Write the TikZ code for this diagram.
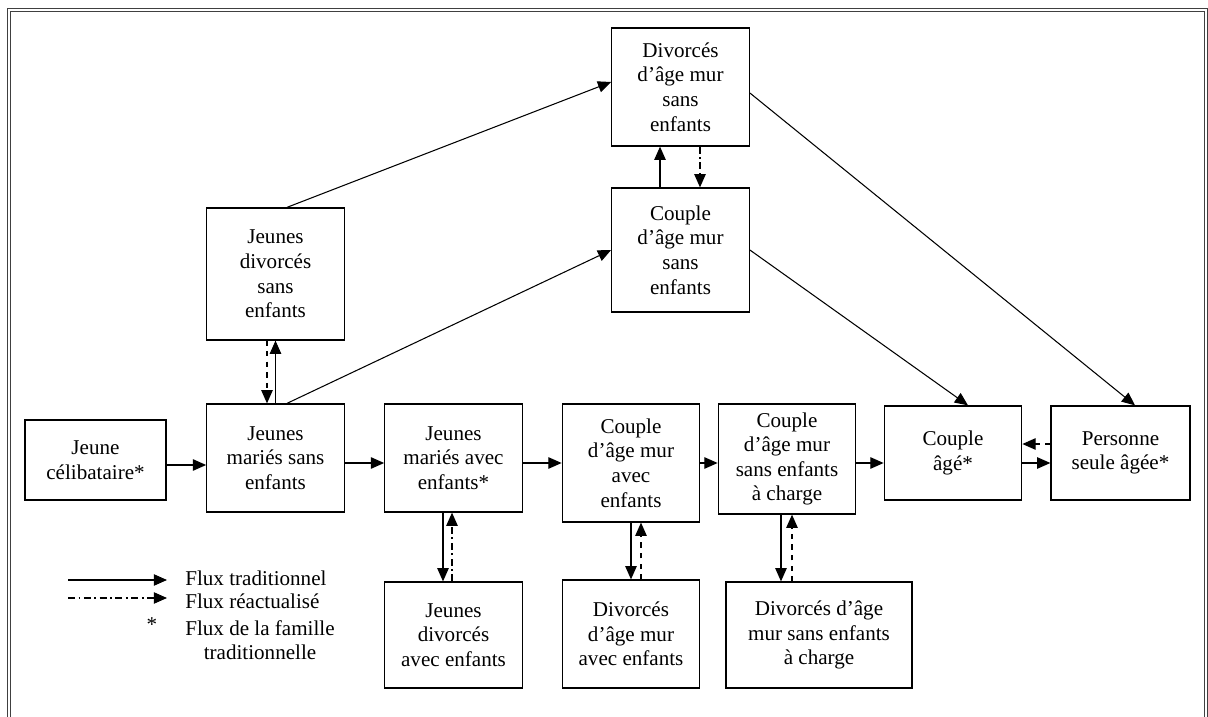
\documentclass[tikz,border=0pt]{standalone}
\usepackage{fontspec}
\setmainfont{Liberation Serif}
\usetikzlibrary{arrows.meta}
\tikzset{
    box/.style={draw, line width=0.75pt, align=center, inner sep=2pt,
        minimum width=2.75cm, font=\fontsize{12pt}{14pt}\selectfont},
    flux/.style={-{Triangle[length=7.5pt,width=6.5pt]}, line width=0.6pt},
    reac/.style={flux, dashed},
    reacdot/.style={flux, dash pattern=on 4pt off 2pt on 1pt off 2pt},
    legend/.style={anchor=west, inner sep=0pt, font=\fontsize{12pt}{14pt}\selectfont}
}

\begin{document}
\begin{tikzpicture}[x=0.02cm, y=-0.02cm]
        \useasboundingbox (0,0) rectangle (1208,717);
        \draw[gray!50!black, double, double distance=1.2pt, line width=0.6pt]
            (9,717) |- (1206,10) -- (1206,717);

        % main row
        \node[box, minimum width=2.82cm, minimum height=1.6cm] (celib) at (95.5,460) {Jeune\\célibataire*};
        \node[box, minimum height=2.16cm] (jmse) at (275.5,458) {Jeunes\\mariés sans\\enfants};
        \node[box, minimum height=2.16cm] (jmae) at (453.5,458) {Jeunes\\mariés avec\\enfants*};
        \node[box, minimum height=2.36cm] (camae) at (631,463) {Couple\\d’âge mur\\avec\\enfants};
        \node[box, minimum height=2.2cm] (camsec) at (787,459) {Couple\\d’âge mur\\sans enfants\\à charge};
        \node[box, minimum height=1.88cm] (cage) at (953,453) {Couple\\âgé*};
        \node[box, minimum width=2.78cm, minimum height=1.88cm] (pseule) at (1120.5,453) {Personne\\seule âgée*};

        % upper boxes
        \node[box, minimum height=2.64cm] (jdse) at (275.5,274) {Jeunes\\divorcés\\sans\\enfants};
        \node[box, minimum height=2.36cm] (damse) at (680.5,87) {Divorcés\\d’âge mur\\sans\\enfants};
        \node[box, minimum height=2.48cm] (camse) at (680.5,250) {Couple\\d’âge mur\\sans\\enfants};

        % lower boxes
        \node[box, minimum height=2.12cm] (jdae) at (453.5,635) {Jeunes\\divorcés\\avec enfants};
        \node[box, minimum height=2.16cm] (damae) at (631,634) {Divorcés\\d’âge mur\\avec enfants};
        \node[box, minimum width=3.72cm, minimum height=2.12cm] (damsec) at (819,635) {Divorcés d’âge\\mur sans enfants\\à charge};

        % horizontal flows
        \draw[flux] (celib.east |- 0,465) -- (jmse.west |- 0,465);
        \draw[flux] (jmse.east |- 0,463) -- (jmae.west |- 0,463);
        \draw[flux] (jmae.east |- 0,463) -- (camae.west |- 0,463);
        \draw[flux] (camae.east |- 0,463) -- (camsec.west |- 0,463);
        \draw[flux] (camsec.east |- 0,463) -- (cage.west |- 0,463);
        \draw[flux] (cage.east |- 0,463) -- (pseule.west |- 0,463);
        \draw[reac] (pseule.west |- 0,444) -- (cage.east |- 0,444);

        % vertical flows
        \draw[flux] (jmse.north) -- (jdse.south);
        \draw[reac] ([xshift=-0.17cm]jdse.south) -- ([xshift=-0.17cm]jmse.north);
        \draw[flux] ([xshift=-0.41cm]camse.north) -- ([xshift=-0.41cm]damse.south);
        \draw[reacdot] ([xshift=0.39cm]damse.south) -- ([xshift=0.39cm]camse.north);
        \draw[flux] ([xshift=-0.21cm]jmae.south) -- ([xshift=-0.21cm]jdae.north);
        \draw[reacdot] ([xshift=-0.03cm]jdae.north) -- ([xshift=-0.03cm]jmae.south);
        \draw[flux] (camae.south) -- (damae.north);
        \draw[reac] ([xshift=0.2cm]damae.north) -- ([xshift=0.2cm]camae.south);
        \draw[flux] ([xshift=-0.12cm]camsec.south) -- ([xshift=-0.12cm]camsec.south |- damsec.north);
        \draw[reac] ([xshift=0.1cm]camsec.south |- damsec.north) -- ([xshift=0.1cm]camsec.south);

        % diagonal flows
        \draw[flux] ([xshift=0.23cm]jdse.north) -- ([yshift=0.1cm]damse.west);
        \draw[flux] ([xshift=0.23cm]jmse.north) -- (camse.west);
        \draw[flux] ([yshift=-0.12cm]damse.east) -- ([xshift=0.29cm]pseule.north);
        \draw[flux] (camse.east) -- ([xshift=0.3cm]cage.north);

        % legend
        \node[legend] (legtrad) at (185,578) {Flux traditionnel};
        \node[legend] (legreac) at (185,601) {Flux réactualisé};
        \node[legend, align=center] (legfam) at (185,640) {Flux de la famille\\traditionnelle};
        \node[legend, anchor=center] (legstar) at (152,625) {*};
        \coordinate (l1s) at (68,580);
        \coordinate (l1e) at (167,580);
        \coordinate (l2s) at (68,598);
        \coordinate (l2e) at (167,598);
        \draw[flux] (l1s) -- (l1e);
        \draw[reacdot] (l2s) -- (l2e);
    \end{tikzpicture}
\end{document}
